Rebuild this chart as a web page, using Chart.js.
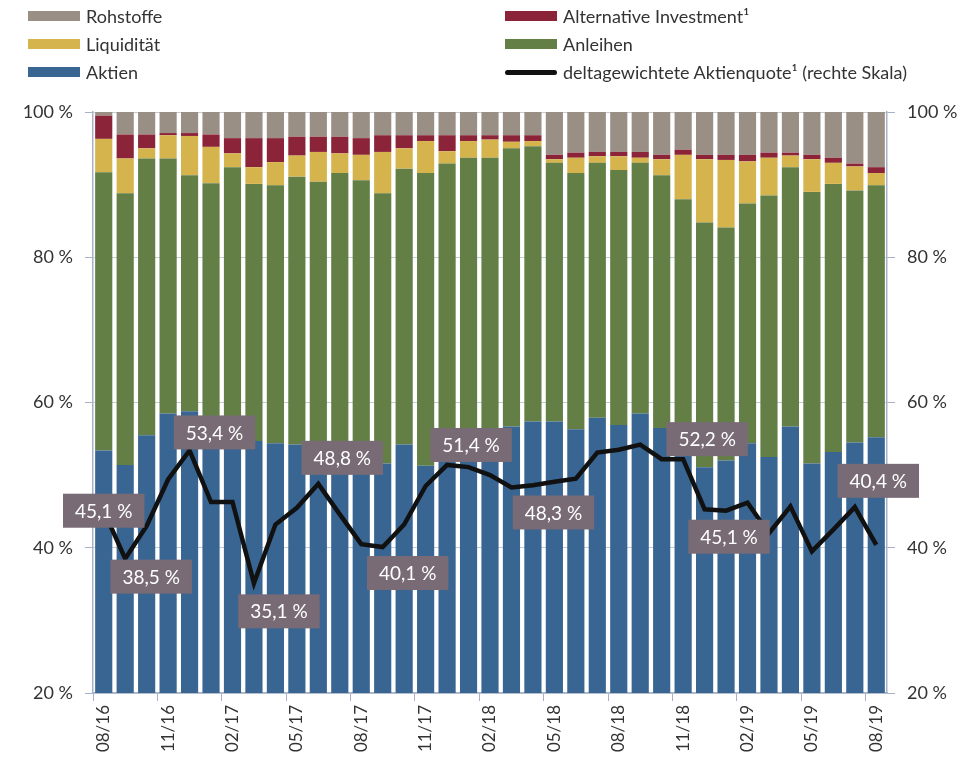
<!DOCTYPE html>
<html lang="de">
<head>
<meta charset="utf-8">
<script src="https://cdn.jsdelivr.net/npm/chart.js@4.4.1/dist/chart.umd.min.js"></script>
<style>
    body { margin: 0; background: #fff; font-family: Lato, "Open Sans", sans-serif; }
    #wrap { position: relative; width: 977px; height: 760px; }
    #chart { position: absolute; left: 0; top: 0; }
    .lg { position: absolute; display: flex; align-items: center; font-size: 18px; color: #333; white-space: nowrap; }
    .lg .sw { width: 52px; height: 10px; margin-right: 6px; }
    .lg .ln { width: 52px; height: 5px; border-radius: 3px; margin-right: 6px; }
</style>
</head>
<body>
<div id="wrap">
    <canvas id="chart" width="977" height="760"></canvas>
    <div id="legend"></div>
</div>
<script>
const months = ['08/16','09/16','10/16','11/16','12/16','01/17','02/17','03/17','04/17','05/17','06/17','07/17',
    '08/17','09/17','10/17','11/17','12/17','01/18','02/18','03/18','04/18','05/18','06/18','07/18',
    '08/18','09/18','10/18','11/18','12/18','01/19','02/19','03/19','04/19','05/19','06/19','07/19','08/19'];

const aktien = [53.4,51.4,55.5,58.5,58.8,55.0,55.0,54.7,54.4,54.2,54.5,54.5,54.0,51.6,54.2,51.3,54.0,55.0,56.0,
    56.7,57.4,57.4,56.3,57.9,56.9,58.5,56.5,56.5,51.1,52.0,54.4,52.5,56.7,51.6,53.2,54.5,55.2];
const anleihen = [38.3,37.4,38.1,35.1,32.5,35.2,37.4,35.4,35.5,36.9,35.9,37.1,36.6,37.2,38.0,40.3,38.9,38.7,37.7,
    38.3,37.9,35.6,35.3,35.1,35.1,34.5,34.8,31.5,33.7,32.1,33.0,36.0,35.7,37.4,36.9,34.7,34.7];
const liquiditaet = [4.6,4.8,1.4,3.2,5.4,5.0,1.9,2.3,3.2,2.9,4.1,2.7,3.5,5.7,2.8,4.4,1.7,2.3,2.5,
    0.9,0.7,0.5,2.1,0.9,1.9,0.7,2.2,6.1,8.7,9.3,5.8,5.2,1.6,4.5,2.9,3.3,1.7];
const alternative = [3.2,3.3,1.9,0.3,0.4,1.7,2.1,4.0,3.3,2.6,2.1,2.3,2.3,2.3,1.8,0.8,2.2,0.8,0.6,
    0.9,0.8,0.6,0.7,0.6,0.6,0.8,0.6,0.7,0.6,0.7,0.9,0.7,0.4,0.6,0.7,0.4,0.8];
const rohstoffe = [0.6,3.1,3.1,2.9,2.9,3.1,3.6,3.6,3.6,3.4,3.4,3.4,3.6,3.2,3.2,3.2,3.2,3.2,3.2,
    3.2,3.2,5.9,5.6,5.5,5.5,5.5,5.9,5.2,5.9,5.9,5.9,5.6,5.6,5.9,6.3,7.1,7.6];
const aktienquote = [45.1,38.5,43.0,49.4,53.4,46.3,46.3,35.1,43.2,45.5,48.8,44.6,40.5,40.1,43.2,48.5,51.4,51.1,50.0,
    48.3,48.6,49.1,49.5,53.1,53.5,54.2,52.2,52.2,45.3,45.1,46.2,42.0,45.7,39.5,42.5,45.6,40.4];

const yTicks = [20, 40, 60, 80, 100];

// which points get a value box, and where the box sits relative to the point
const labelPoints = [0, 1, 4, 7, 10, 13, 16, 19, 27, 29, 36];
const labelOffsets = [[0,0],[26,18],[25,-18],[25,28],[24,-26],[25,26],[24,-20],[42,25],[24,-20],[3,26],[2,-64]];

const gridColor = '#c3cad8';
const axisColor = '#a7b2c6';

const datasets = [
    { type: 'bar', label: 'Aktien', data: aktien, backgroundColor: '#386592' },
    { type: 'bar', label: 'Anleihen', data: anleihen, backgroundColor: '#637f46' },
    { type: 'bar', label: 'Liquidität', data: liquiditaet, backgroundColor: '#d5b44d' },
    { type: 'bar', label: 'Alternative Investment¹', data: alternative, backgroundColor: '#8b2439' },
    { type: 'bar', label: 'Rohstoffe', data: rohstoffe, backgroundColor: '#9a8f84' },
    { type: 'line', label: 'deltagewichtete Aktienquote¹ (rechte Skala)', data: aktienquote, yAxisID: 'y1',
      borderColor: '#111', borderWidth: 4.5, pointRadius: 0, tension: 0, order: 0, borderJoinStyle: 'miter' }
];
datasets.forEach(d => {
    if (d.type === 'bar') { d.order = 1; d.stack = 's'; d.barPercentage = 0.8; d.categoryPercentage = 1; }
});

const fmt = v => v.toFixed(1).replace('.', ',') + ' %';

const valueBoxes = {
    id: 'valueBoxes',
    afterDatasetsDraw(chart) {
        const ctx = chart.ctx;
        const meta = chart.getDatasetMeta(5);
        ctx.save();
        ctx.font = '19px Lato, sans-serif';
        ctx.textAlign = 'center';
        ctx.textBaseline = 'middle';
        labelPoints.forEach((idx, k) => {
            const p = meta.data[idx];
            const cx = p.x + labelOffsets[k][0];
            const cy = p.y + labelOffsets[k][1];
            const txt = fmt(aktienquote[idx]);
            const w = ctx.measureText(txt).width + 24;
            const h = 34;
            ctx.fillStyle = '#786b75';
            ctx.fillRect(cx - w / 2, cy - h / 2, w, h);
            ctx.fillStyle = '#fff';
            ctx.fillText(txt, cx, cy + 1);
        });
        ctx.restore();
    }
};

const yScale = (pos, width) => ({
    position: pos,
    min: 20, max: 100,
    afterBuildTicks: s => { s.ticks = yTicks.map(v => ({ value: v })); },
    afterFit: s => { s.width = width; },
    grid: {
        display: true,
        drawOnChartArea: pos === 'left',
        color: pos === 'left' ? gridColor : axisColor,
        tickColor: axisColor,
        tickLength: 8,
        lineWidth: 1
    },
    border: { display: true, color: axisColor, width: 1.5 },
    ticks: {
        color: '#333',
        font: { family: 'Lato', size: 18 },
        padding: 12,
        callback: v => v + ' %'
    }
});

new Chart(document.getElementById('chart'), {
    data: { labels: months, datasets: datasets },
    options: {
        responsive: false,
        animation: false,
        layout: { padding: { top: 112, left: 0, right: 0, bottom: 0 } },
        plugins: { legend: { display: false }, tooltip: { enabled: false } },
        scales: {
            x: {
                stacked: true,
                afterFit: s => { s.height = 67; },
                grid: {
                    offset: true,
                    drawOnChartArea: false,
                    tickLength: 8,
                    color: c => (c.index % 3 === 0 ? axisColor : 'rgba(0,0,0,0)')
                },
                border: { display: true, color: axisColor, width: 1.5 },
                ticks: {
                    autoSkip: false,
                    maxRotation: 90,
                    minRotation: 90,
                    padding: 4,
                    color: '#333',
                    font: { family: 'Lato', size: 17 },
                    callback: (v, i) => (i % 3 === 0 ? months[i] : '')
                }
            },
            y: Object.assign(yScale('left', 93), { stacked: true }),
            y1: yScale('right', 90)
        }
    },
    plugins: [valueBoxes]
});

// legend in two columns like the original
const legendSlots = [
    { ds: 4, x: 28, y: 16 }, { ds: 3, x: 505, y: 16 },
    { ds: 2, x: 28, y: 44 }, { ds: 1, x: 505, y: 44 },
    { ds: 0, x: 28, y: 72 }, { ds: 5, x: 505, y: 72 }
];
document.getElementById('legend').innerHTML = legendSlots.map(s => {
    const d = datasets[s.ds];
    const mark = d.type === 'line'
        ? `<span class="ln" style="background:${d.borderColor}"></span>`
        : `<span class="sw" style="background:${d.backgroundColor}"></span>`;
    return `<div class="lg" style="left:${s.x}px; top:${s.y - 12}px; height:24px;">${mark}${d.label}</div>`;
}).join('');
</script>
</body>
</html>
